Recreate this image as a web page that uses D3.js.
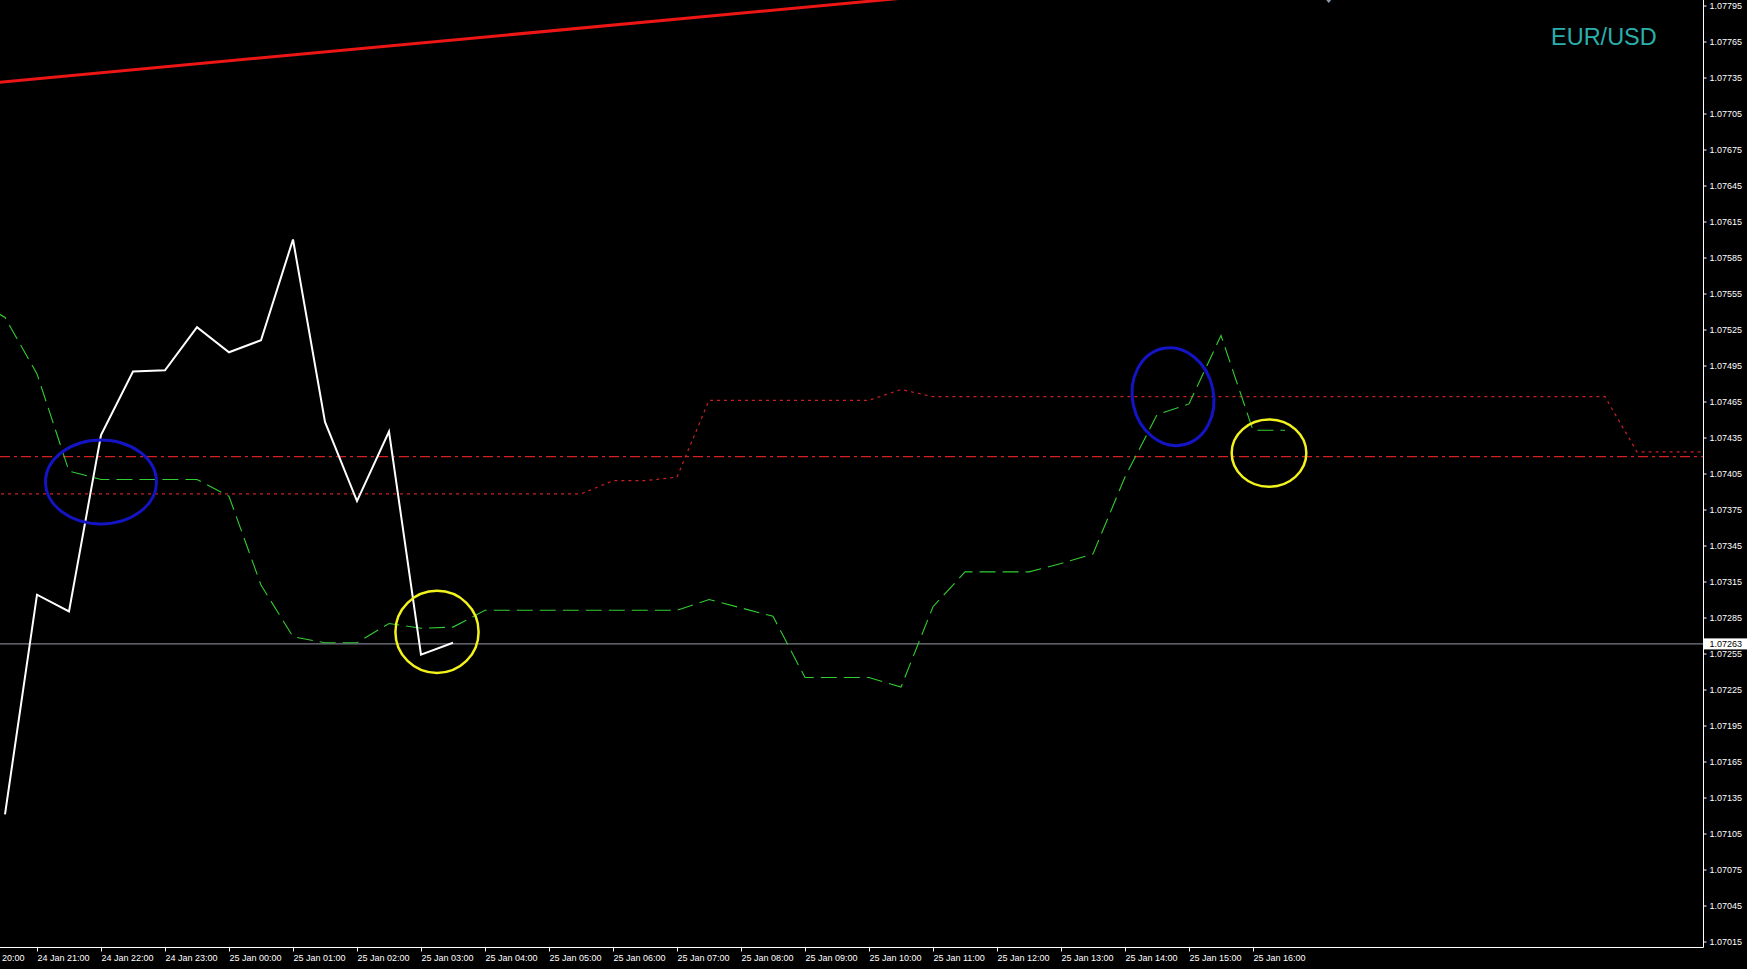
<!DOCTYPE html>
<html>
<head>
<meta charset="utf-8">
<script src="https://cdn.jsdelivr.net/npm/d3@7/dist/d3.min.js"></script>
<style>
  html, body { margin: 0; padding: 0; background: #000; overflow: hidden; }
  svg { display: block; }
</style>
</head>
<body>
<svg id="chart" width="1747" height="969"></svg>
<script>
// ---------------- DATA ----------------
const symbol = "EUR/USD";
const currentPrice = 1.07263;

// price axis ticks
const priceTicks = [1.07015, 1.07045, 1.07075, 1.07105, 1.07135, 1.07165, 1.07195, 1.07225,
  1.07255, 1.07285, 1.07315, 1.07345, 1.07375, 1.07405, 1.07435, 1.07465, 1.07495, 1.07525,
  1.07555, 1.07585, 1.07615, 1.07645, 1.07675, 1.07705, 1.07735, 1.07765, 1.07795];

// time axis tick labels (hourly)
const timeTicks = ["2017-01-24T20:00", "2017-01-24T21:00", "2017-01-24T22:00", "2017-01-24T23:00",
  "2017-01-25T00:00", "2017-01-25T01:00", "2017-01-25T02:00", "2017-01-25T03:00",
  "2017-01-25T04:00", "2017-01-25T05:00", "2017-01-25T06:00", "2017-01-25T07:00",
  "2017-01-25T08:00", "2017-01-25T09:00", "2017-01-25T10:00", "2017-01-25T11:00",
  "2017-01-25T12:00", "2017-01-25T13:00", "2017-01-25T14:00", "2017-01-25T15:00",
  "2017-01-25T16:00"];

// M30 close line (white), starting 24 Jan 20:30
const closeStart = "2017-01-24T20:30";
const closeValues = [1.07121, 1.07304, 1.07290, 1.07437, 1.07490, 1.07491, 1.07527, 1.07506,
  1.07516, 1.07600, 1.07448, 1.07382, 1.07440, 1.07254, 1.07264];

// green dashed line, starting 24 Jan 20:00
const greenStart = "2017-01-24T20:00";
const greenValues = [1.07551, 1.07535, 1.07488, 1.07407, 1.07400, 1.07400, 1.07400, 1.07400,
  1.07386, 1.07312, 1.07269, 1.07264, 1.07264, 1.07280, 1.07276, 1.07277,
  1.07291, 1.07291, 1.07291, 1.07291, 1.07291, 1.07291, 1.07291, 1.07300,
  1.07293, 1.07286, 1.07235, 1.07235, 1.07235, 1.07227, 1.07294, 1.07323,
  1.07323, 1.07323, 1.07330, 1.07338, 1.07402, 1.07454, 1.07463, 1.07520,
  1.07441, 1.07441];

// red dotted line, starting 24 Jan 20:00
const dottedStart = "2017-01-24T20:00";
const dottedValues = [1.07388, 1.07388, 1.07388, 1.07388, 1.07388, 1.07388, 1.07388, 1.07388,
  1.07388, 1.07388, 1.07388, 1.07388, 1.07388, 1.07388, 1.07388, 1.07388,
  1.07388, 1.07388, 1.07388, 1.07388, 1.07399, 1.07399, 1.07402, 1.07466,
  1.07466, 1.07466, 1.07466, 1.07466, 1.07466, 1.07475, 1.07469, 1.07469,
  1.07469, 1.07469, 1.07469, 1.07469, 1.07469, 1.07469, 1.07469, 1.07469,
  1.07469, 1.07469, 1.07469, 1.07469, 1.07469, 1.07469, 1.07469, 1.07469,
  1.07469, 1.07469, 1.07469, 1.07469, 1.07423, 1.07423, 1.07423];

// horizontal dash-dot level
const levelPrice = 1.07419;

// trend line (two anchor points)
const trendTimes = ["2017-01-24T20:00", "2017-01-25T11:00"];
const trendPrices = [1.07729, 1.078035];

// annotation ellipses: centre time, centre price, half-width (minutes), half-height (price)
const ellipseTimes = ["2017-01-24T22:00", "2017-01-25T14:45", "2017-01-25T03:15", "2017-01-25T16:15"];
const ellipsePrices = [1.07398, 1.07469, 1.07273, 1.07422];
const ellipseHalfMinutes = [52, 38, 39, 35];
const ellipseHalfPrice = [0.00035, 0.00041, 0.000342, 0.00028];
const ellipseKinds = ["blue", "blue", "yellow", "yellow"];

// small marker at top
const markerTime = "2017-01-25T17:11";
const markerPrice = 1.07797;

// ---------------- DRAWING ----------------
const W = 1747, H = 969;
const plotRight = 1703, plotBottom = 947;
const parse = s => new Date(s + ":00Z");
const stepSeries = (start, vals) => vals.map((v, i) => ({ t: new Date(parse(start).getTime() + i * 30 * 60000), v }));

const x = d3.scaleUtc()
  .domain([parse("2017-01-24T21:00"), parse("2017-01-25T16:00")])
  .range([37, 1253]);
const y = d3.scaleLinear()
  .domain([1.07015, 1.07795])
  .range([941.5, 5.5]);

const svg = d3.select("#chart");
svg.append("rect").attr("width", W).attr("height", H).attr("fill", "#000");

svg.append("defs").append("clipPath").attr("id", "plotclip")
  .append("rect").attr("x", 0).attr("y", 0).attr("width", plotRight).attr("height", plotBottom);

const plot = svg.append("g").attr("clip-path", "url(#plotclip)");
const line = d3.line().x(d => x(d.t)).y(d => y(d.v));

// dash-dot level
plot.append("line")
  .attr("x1", 0).attr("x2", plotRight)
  .attr("y1", y(levelPrice)).attr("y2", y(levelPrice))
  .attr("stroke", "#d42020").attr("stroke-width", 1.3)
  .attr("stroke-dasharray", "10,4,3,4");

// red dotted line
plot.append("path").datum(stepSeries(dottedStart, dottedValues))
  .attr("d", line).attr("fill", "none")
  .attr("stroke", "#c82020").attr("stroke-width", 1.2)
  .attr("stroke-dasharray", "3,4");

// current price line
plot.append("line")
  .attr("x1", 0).attr("x2", plotRight)
  .attr("y1", y(currentPrice)).attr("y2", y(currentPrice))
  .attr("stroke", "#9a9aaa").attr("stroke-width", 1);

// green dashed line
plot.append("path").datum(stepSeries(greenStart, greenValues))
  .attr("d", line).attr("fill", "none")
  .attr("stroke", "#32cd32").attr("stroke-width", 1.1)
  .attr("stroke-dasharray", "16,7");

// white close line
plot.append("path").datum(stepSeries(closeStart, closeValues))
  .attr("d", line).attr("fill", "none")
  .attr("stroke", "#ffffff").attr("stroke-width", 2)
  .attr("stroke-linejoin", "miter");

// trend line
const trendData = trendTimes.map((t, i) => ({ t: parse(t), v: trendPrices[i] }));
const tSlope = (trendData[1].v - trendData[0].v) / (trendData[1].t - trendData[0].t);
const trendEnd = parse("2017-01-25T16:00");
const trendExt = [trendData[0], { t: trendEnd, v: trendData[0].v + tSlope * (trendEnd - trendData[0].t) }];
plot.append("path").datum(trendExt)
  .attr("d", line).attr("fill", "none")
  .attr("stroke", "#ee1515").attr("stroke-width", 3);

// ellipses
ellipseTimes.forEach((t, i) => {
  const c = parse(t);
  const cx = x(c), cy = y(ellipsePrices[i]);
  const rx = x(new Date(c.getTime() + ellipseHalfMinutes[i] * 60000)) - cx;
  const ry = y(ellipsePrices[i] - ellipseHalfPrice[i]) - cy;
  const blue = ellipseKinds[i] === "blue";
  plot.append("ellipse")
    .attr("cx", cx).attr("cy", cy).attr("rx", rx).attr("ry", ry)
    .attr("fill", "none")
    .attr("stroke", blue ? "#1414c4" : "#f2f21c")
    .attr("stroke-width", blue ? 3 : 2.5)
    .attr("transform", i === 1 ? `rotate(-12,${cx},${cy})` : null);
});

// marker at top
{
  const mx = x(parse(markerTime)), my = y(markerPrice);
  plot.append("path")
    .attr("d", `M${mx - 4},${my - 5}L${mx + 4},${my - 5}L${mx},${my}Z`)
    .attr("fill", "#8a98a8");
}

// symbol text
svg.append("text")
  .attr("x", 1551).attr("y", 45)
  .attr("font-family", "Liberation Sans, Arial, sans-serif")
  .attr("font-size", 23.5)
  .attr("fill", "#2ab0ac")
  .text(symbol);

// axes frame
svg.append("line").attr("x1", plotRight + 0.5).attr("x2", plotRight + 0.5)
  .attr("y1", 0).attr("y2", plotBottom + 0.5).attr("stroke", "#ffffff").attr("stroke-width", 1);
svg.append("line").attr("x1", 0).attr("x2", plotRight + 0.5)
  .attr("y1", plotBottom + 0.5).attr("y2", plotBottom + 0.5).attr("stroke", "#ffffff").attr("stroke-width", 1);

const axisFont = "Liberation Sans, Arial, sans-serif";

// right price axis
const yAxis = d3.axisRight(y).tickValues(priceTicks).tickSize(3).tickFormat(d3.format(".5f"));
const gy = svg.append("g").attr("transform", `translate(${plotRight + 0.5},0)`).call(yAxis);
gy.select(".domain").remove();
gy.selectAll(".tick line").attr("stroke", "#ffffff");
gy.selectAll(".tick text").attr("fill", "#ffffff").attr("font-family", axisFont)
  .attr("font-size", 9).attr("x", 6).attr("dy", "0.34em");

// current price box
svg.append("rect")
  .attr("x", plotRight + 1).attr("y", y(currentPrice) - 5.5)
  .attr("width", W - plotRight - 1).attr("height", 11)
  .attr("fill", "#ffffff");
svg.append("text")
  .attr("x", plotRight + 6.5).attr("y", y(currentPrice)).attr("dy", "0.34em")
  .attr("font-family", axisFont).attr("font-size", 9).attr("fill", "#000")
  .text(d3.format(".5f")(currentPrice));

// bottom time axis
const fullFmt = d3.utcFormat("%d %b %H:%M");
const timeFmt = d3.utcFormat("%H:%M");
const xAxis = d3.axisBottom(x).tickValues(timeTicks.map(parse)).tickSize(4)
  .tickFormat(d => x(d) < 0 ? timeFmt(d) : fullFmt(d));
const gx = svg.append("g").attr("transform", `translate(0,${plotBottom + 0.5})`).call(xAxis);
gx.select(".domain").remove();
gx.selectAll(".tick line").attr("stroke", "#ffffff");
gx.selectAll(".tick text").attr("fill", "#ffffff").attr("font-family", axisFont)
  .attr("font-size", 9).attr("y", 7).attr("dy", "0.71em")
  .attr("text-anchor", d => x(d) < 0 ? "end" : "start")
  .attr("x", d => x(d) < 0 ? 51 : 0);
</script>
</body>
</html>
